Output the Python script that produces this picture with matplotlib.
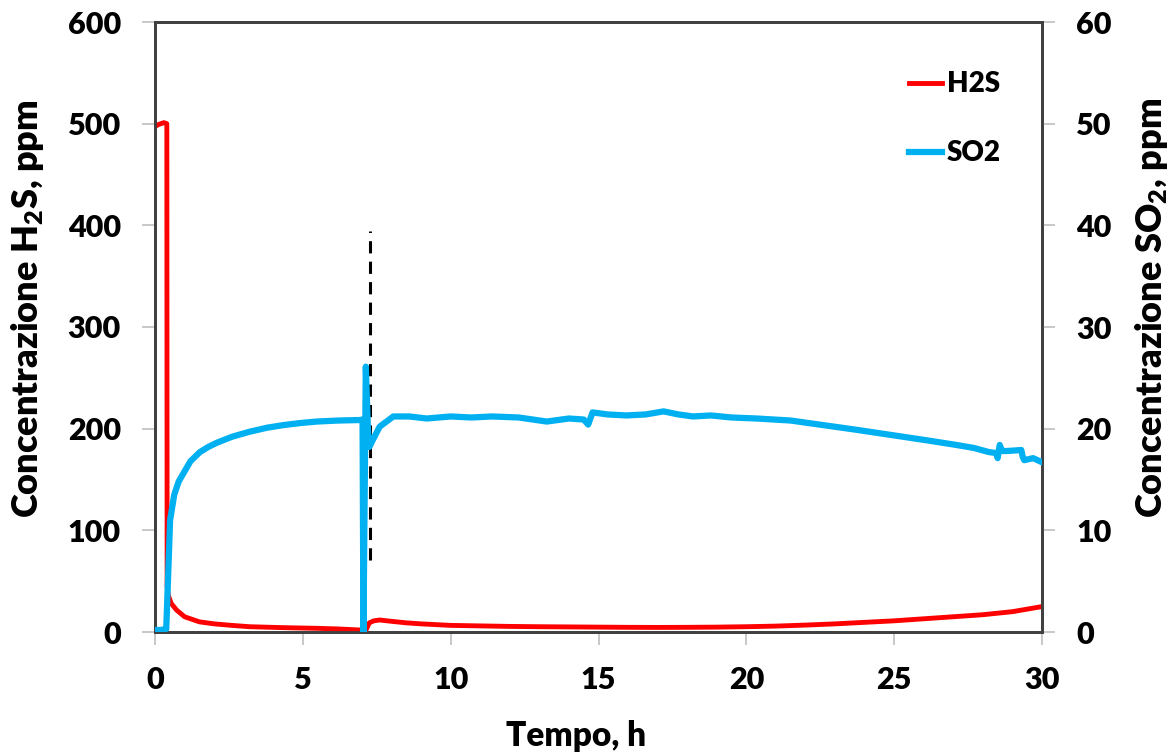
import matplotlib
matplotlib.use("Agg")
import matplotlib.pyplot as plt

# ---- data ----
t_h2s = [0.0, 0.1, 0.2, 0.3, 0.40, 0.41, 0.45, 0.55, 0.73, 1.0, 1.5, 2.0, 2.6, 3.2, 4.3,
         5.5, 6.2, 6.9, 7.05, 7.12, 7.25, 7.4, 7.6, 8.0, 8.5, 9.0, 10.0, 11.0, 12.0, 13.0,
         14.0, 15.0, 16.0, 17.0, 18.0, 19.0, 20.0, 21.0, 22.0, 23.0, 24.0, 25.0, 26.0,
         27.0, 28.0, 29.0, 30.0]
h2s = [497, 499, 500, 501, 500, 45, 36, 28, 21.6, 15, 10, 8, 6.5, 5.2, 4.3,
       3.6, 3.0, 2.0, 1.0, 1.0, 9, 11, 11.8, 10.5, 9, 8, 6.5, 6, 5.5, 5.2,
       5.0, 4.8, 4.6, 4.5, 4.6, 4.8, 5.2, 5.8, 6.8, 8, 9.5, 11, 13,
       15, 17, 20, 25]

t_so2 = [0.0, 0.2, 0.38, 0.45, 0.51, 0.65, 0.8, 0.96, 1.2, 1.52, 1.8, 2.08, 2.6, 3.2,
         3.8, 4.34, 4.9, 5.47, 6.2, 6.93, 7.02, 7.05, 7.13, 7.2, 7.25, 7.35, 7.6, 8.06,
         8.6, 9.19, 10.0, 10.7, 11.4, 12.3, 13.25, 14.0, 14.5, 14.65, 14.8, 15.3, 15.95,
         16.6, 17.2, 17.7, 18.2, 18.8, 19.5, 20.35, 21.5, 22.6, 23.7, 24.85, 26.0, 27.1,
         27.7, 28.2, 28.45, 28.5, 28.57, 28.65, 28.8, 29.3, 29.35, 29.4, 29.7, 30.0]
so2 = [0.2, 0.2, 0.3, 6.0, 11.0, 13.5, 14.8, 15.6, 16.8, 17.7, 18.2, 18.6, 19.2, 19.7,
       20.1, 20.35, 20.55, 20.7, 20.8, 20.85, 20.9, 0.0, 26.1, 20.0, 18.2, 18.8, 20.2, 21.2,
       21.2, 21.0, 21.2, 21.1, 21.2, 21.1, 20.7, 21.0, 20.9, 20.4, 21.6, 21.4, 21.3,
       21.4, 21.7, 21.4, 21.2, 21.3, 21.1, 21.0, 20.8, 20.35, 19.9, 19.4, 18.9, 18.4,
       18.1, 17.7, 17.6, 17.1, 18.4, 17.8, 17.8, 17.9, 17.2, 16.9, 17.1, 16.7]

marker_t = [7.27, 7.27]
marker_ppm = [71, 394]

x_ticks = [0, 5, 10, 15, 20, 25, 30]
y_ticks = [0, 100, 200, 300, 400, 500, 600]
y2_ticks = [0, 10, 20, 30, 40, 50, 60]

# ---- style ----
plt.rcParams['font.family'] = ['Lato', 'DejaVu Sans']
plt.rcParams['font.weight'] = 'heavy'
plt.rcParams['mathtext.fontset'] = 'custom'
plt.rcParams['mathtext.rm'] = 'Lato:heavy'
plt.rcParams['mathtext.it'] = 'Lato:heavy'
plt.rcParams['mathtext.bf'] = 'Lato:heavy'

W, H = 1173, 753
fig = plt.figure(figsize=(W/100, H/100), dpi=100)
ax = fig.add_axes([155/W, 1 - 632/H, (1042-155)/W, (632-22)/H])
ax2 = ax.twinx()

red = '#FF0000'
blue = '#00B0F0'

l1, = ax.plot(t_h2s, h2s, color=red, lw=3.5, solid_joinstyle='round', label='H2S', zorder=3)
ax.plot(marker_t, marker_ppm, color='black', lw=2.2, linestyle=(0, (4, 2.7)), zorder=4)
l2, = ax2.plot(t_so2, so2, color=blue, lw=4.5, solid_joinstyle='round', label='SO2', zorder=3)

ax.set_xlim(0, 30)
ax.set_ylim(0, 600)
ax2.set_ylim(0, 60)
ax.set_xticks(x_ticks)
ax.set_yticks(y_ticks)
ax2.set_yticks(y2_ticks)

fs = 22
for a in (ax, ax2):
    a.tick_params(axis='both', direction='out', length=9.5, width=1.2, color='#bfbfbf',
                  labelsize=fs, pad=15)
    for s in a.spines.values():
        s.set_color('#404040')
        s.set_linewidth(2.0)

fig.text(576/W, 1 - 736/H, 'Tempo, h', fontsize=24, fontweight='heavy',
         ha='center', va='center')
fig.text(28/W, 1 - 309/H, r'Concentrazione H$_{2}$S, ppm', fontsize=26, fontweight='heavy',
         ha='center', va='center', rotation=90)
fig.text(1151/W, 1 - 308/H, r'Concentrazione SO$_{2}$, ppm', fontsize=26, fontweight='heavy',
         ha='center', va='center', rotation=90)

ax2.legend([l1, l2], ['H2S', 'SO2'], loc='upper left', bbox_to_anchor=(0.822, 0.96),
           frameon=False, fontsize=20, handlelength=1.2, handletextpad=0.15,
           labelspacing=1.55)

fig.savefig('out.png', dpi=100, facecolor='white')
